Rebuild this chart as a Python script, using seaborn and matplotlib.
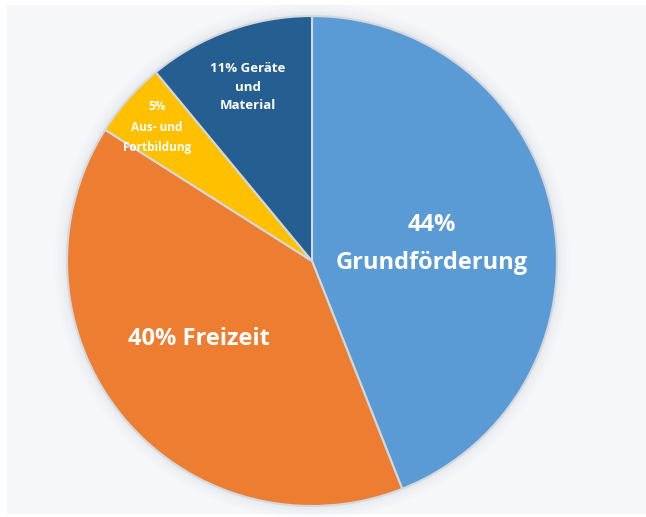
import matplotlib
matplotlib.use("Agg")
import matplotlib.pyplot as plt
from matplotlib.patches import Circle, Rectangle
import seaborn as sns

# data, clockwise from 12 o'clock
categories = ["Grundförderung", "Freizeit", "Aus- und Fortbildung", "Geräte und Material"]
shares = [44, 40, 5, 11]
colors = ["#5b9bd5", "#ed7d31", "#ffc000", "#255e91"]
labels = ["44%\nGrundförderung", "40% Freizeit", "5%\nAus- und\nFortbildung", "11% Geräte\nund\nMaterial"]
label_pos = [(0.49, 0.07), (-0.46, -0.32), (-0.633, 0.545), (-0.261, 0.71)]
label_size = [17, 17, 8.5, 9.5]
label_spacing = [1.75, 1.35, 1.75, 1.55]

sns.set_theme(style="white")
plt.rcParams["font.family"] = ["Open Sans", "DejaVu Sans"]

fig = plt.figure(figsize=(6.46, 5.17), dpi=100)
fig.patch.set_facecolor("white")
fig.patches.append(Rectangle((7 / 646, 0.006), 1, 0.984, transform=fig.transFigure,
                             facecolor="#f5f7f9", edgecolor="none", zorder=-10))

ax = fig.add_axes([67 / 646, 11 / 517, 490 / 646, 490 / 517])
ax.set_facecolor("none")
ax.set_zorder(5)

# soft glow around the pie
for i, r in enumerate([1.05, 1.035, 1.02, 1.01]):
    ax.add_patch(Circle((0, 0), r, facecolor="#dfe2e6", alpha=0.10 + 0.05 * i,
                        edgecolor="none", zorder=0, clip_on=False))

wedges, _ = ax.pie(shares, colors=colors, startangle=90, counterclock=False,
                   radius=1, wedgeprops=dict(edgecolor="#d4d8de", linewidth=1.5))

for txt, (x, y), fs, ls in zip(labels, label_pos, label_size, label_spacing):
    ax.text(x, y, txt, ha="center", va="center", color="white",
            fontsize=fs, fontweight="bold", linespacing=ls)

ax.set_xlim(-1, 1)
ax.set_ylim(-1, 1)
ax.set_aspect("auto")
ax.axis("off")

fig.savefig("out.png", dpi=100)
